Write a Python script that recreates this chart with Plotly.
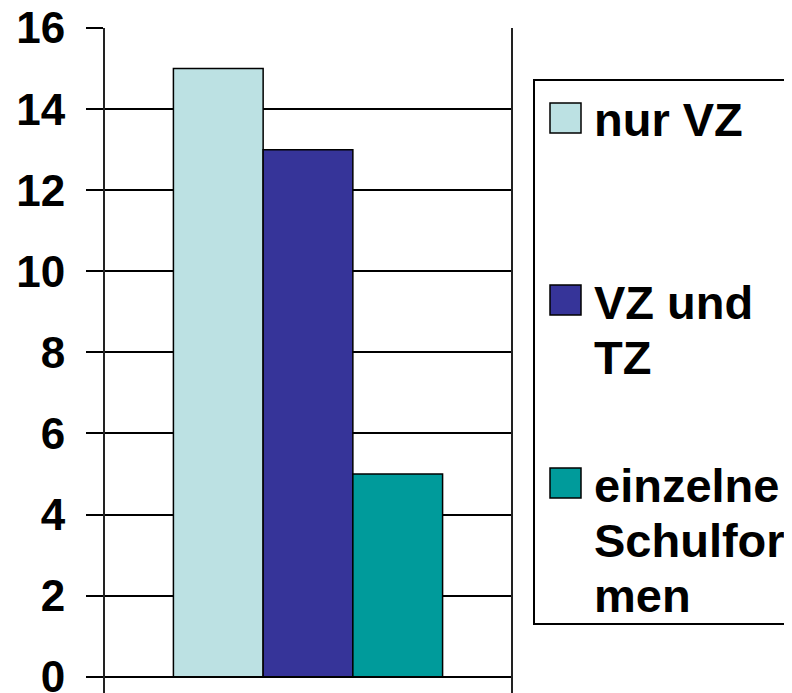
import plotly.graph_objects as go

#%% dados
categorias = ['']
series = ['nur VZ', 'VZ und<br>TZ', 'einzelne<br>Schulfor<br>men']
valores = [15, 13, 5]
cores = ['#BCE1E3', '#363499', '#009B9B']
ticks_y = [0, 2, 4, 6, 8, 10, 12, 14, 16]

fonte = 'Liberation Sans'

#%% figura
fig = go.Figure()
for nome, v, cor in zip(series, valores, cores):
    fig.add_trace(go.Bar(
        x=categorias,
        y=[v],
        name=nome,
        marker_color=cor,
        marker_line_color='black',
        marker_line_width=1.5,
        showlegend=False,
    ))

fig.update_yaxes(
    range=[-0.4, 16],
    tickvals=ticks_y,
    ticktext=[str(t) for t in ticks_y],
    showgrid=True,
    gridcolor='black',
    gridwidth=2,
    zeroline=True,
    zerolinecolor='black',
    zerolinewidth=2,
    showline=True,
    linecolor='#222222',
    linewidth=2,
    mirror=True,
    ticks='outside',
    ticklen=17,
    tickwidth=2,
    tickcolor='black',
    ticklabelstandoff=12,
    ticklabeloverflow='allow',
    automargin=False,
    tickfont=dict(family=fonte, size=44, color='black', weight='bold'),
)
fig.update_xaxes(showticklabels=False, showgrid=False, zeroline=False, showline=False,
                 automargin=False)

# legenda desenhada a mao (caixa + quadrados + textos)
# a pagina tem margem de 8px no body, por isso as coordenadas sao da pagina
def px_x(p):
    return (p - 105) / 406
def px_y(p):
    return (693 - p) / 665

fig.add_shape(type='rect', xref='paper', yref='paper',
              x0=px_x(534), x1=px_x(810), y0=px_y(624), y1=px_y(80),
              line=dict(color='black', width=2), fillcolor='white', layer='above')

topos = [103, 285, 468]
for nome, cor, topo in zip(series, cores, topos):
    fig.add_shape(type='rect', xref='paper', yref='paper',
                  x0=px_x(550), x1=px_x(581), y0=px_y(topo + 30), y1=px_y(topo),
                  line=dict(color='black', width=1.5), fillcolor=cor, layer='above')
    for i, linha in enumerate(nome.split('<br>')):
        fig.add_annotation(
            x=px_x(592), y=px_y(topo + 17 + 55 * i), xref='paper', yref='paper',
            text=linha, showarrow=False, xanchor='left', yanchor='middle', align='left',
            font=dict(family=fonte, size=47, color='black', weight='bold'),
        )

fig.update_layout(
    width=784,
    height=685,
    barmode='group',
    bargap=0.337,
    bargroupgap=0,
    paper_bgcolor='white',
    plot_bgcolor='white',
    margin=dict(l=97, r=281, t=20, b=0, autoexpand=False),
)

fig.write_html("out.html")
